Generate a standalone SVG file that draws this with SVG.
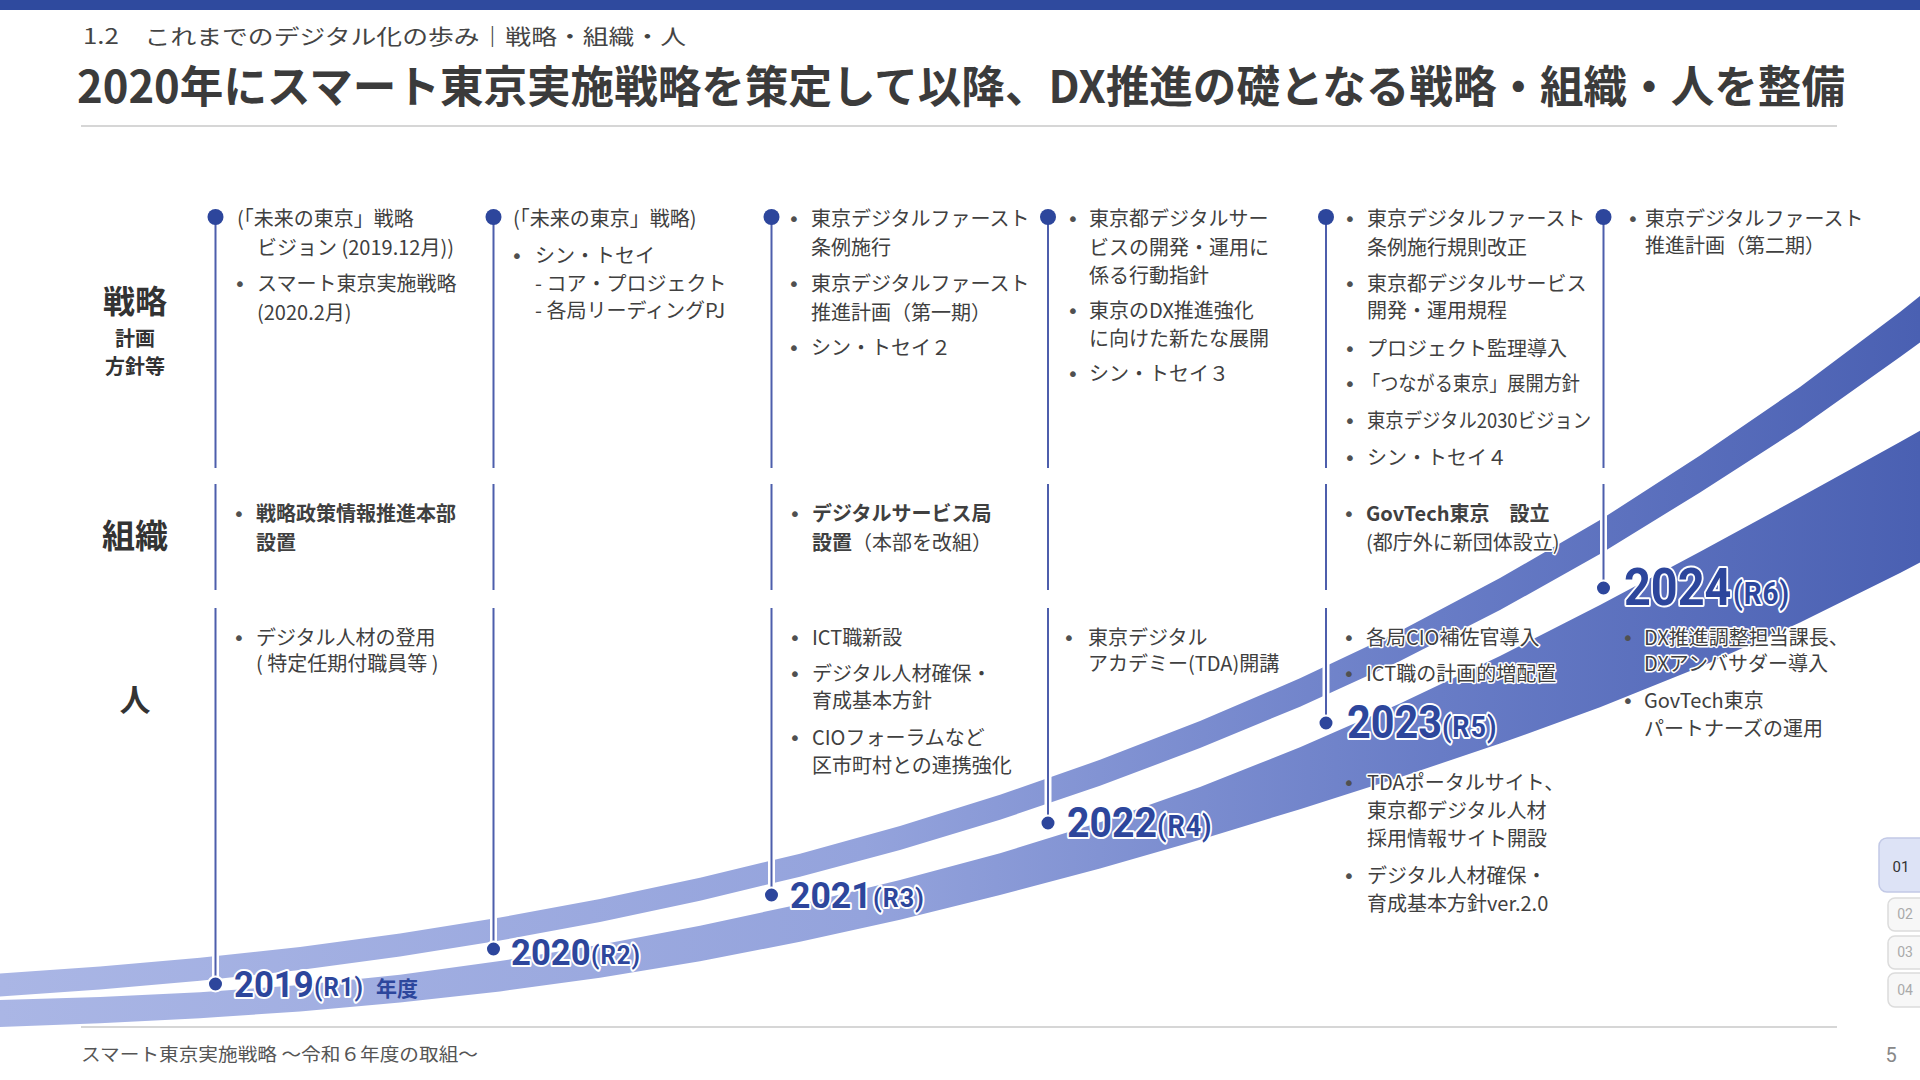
<svg xmlns="http://www.w3.org/2000/svg" width="1920" height="1080" viewBox="0 0 1920 1080">
<defs>
<linearGradient id="bandGrad" gradientUnits="userSpaceOnUse" x1="0" y1="0" x2="1920" y2="0">
<stop offset="0" stop-color="#aab6e5"/>
<stop offset="0.45" stop-color="#94a3dc"/>
<stop offset="0.75" stop-color="#687cc6"/>
<stop offset="1" stop-color="#4a60b2"/>
</linearGradient>
<style>
.t{font-family:"Noto Sans CJK JP","Noto Sans",sans-serif;font-size:20px;fill:#404040;stroke:#fff;stroke-width:3px;paint-order:stroke;stroke-linejoin:round}
.bd{font-weight:700}
.bul{font-family:"DejaVu Sans",sans-serif;font-size:20px;fill:#505050}
.lab{font-family:"Noto Sans CJK JP","Noto Sans",sans-serif;font-weight:700;fill:#333;text-anchor:middle}
.yr{font-family:Roboto,"Liberation Sans",sans-serif;font-weight:700;fill:#2d469c;stroke:#fff;stroke-width:4px;paint-order:stroke;stroke-linejoin:round}
.rr{letter-spacing:1px}
.vlh{stroke:#fff;stroke-width:7;fill:none}
.vl{stroke:#4d5eac;stroke-width:2;fill:none}
.dot{fill:#2d469c}
.ydot{fill:#2d469c;stroke:#fff;stroke-width:2}
.tab{font-family:Roboto,"Liberation Sans",sans-serif;text-anchor:middle}
</style>
</defs>
<rect x="0" y="0" width="1920" height="1080" fill="#fff"/>
<g id="header">
<rect x="0" y="0" width="1920" height="10" fill="#2f4a9e"/>
<text x="83" y="44" font-family="Noto Sans CJK JP, sans-serif" font-size="21" fill="#444" textLength="603" lengthAdjust="spacingAndGlyphs">1.2　これまでのデジタル化の歩み｜戦略・組織・人</text>
<text x="77" y="103" font-family="Noto Sans CJK JP, sans-serif" font-size="44" font-weight="700" fill="#3b3b3b" textLength="1768" lengthAdjust="spacingAndGlyphs">2020年にスマート東京実施戦略を策定して以降、DX推進の礎となる戦略・組織・人を整備</text>
<line x1="81" y1="126" x2="1837" y2="126" stroke="#d6d6d6" stroke-width="2"/>
</g>
<g id="bands">
<path d="M -20 974.8 L 0 973.5 L 100 966.6 L 200 957.8 L 300 946.9 L 400 933.4 L 500 917.5 L 600 899 L 700 877.7 L 800 853.7 L 900 826 L 1000 794.8 L 1100 759.8 L 1200 721.1 L 1300 678.3 L 1400 630.9 L 1500 578.1 L 1600 520.1 L 1700 455.4 L 1800 387 L 1900 312 L 1940 280 L 1940 328 L 1900 357 L 1800 428 L 1700 492.4 L 1600 554.1 L 1500 610.1 L 1400 660.9 L 1300 706.7 L 1200 748.1 L 1100 785.8 L 1000 819.8 L 900 850 L 800 876.7 L 700 900.7 L 600 922 L 500 940.5 L 400 956.4 L 300 969.9 L 200 980.8 L 100 989.6 L 0 996.5 L -20 997.8 Z" fill="url(#bandGrad)"/>
<path d="M -20 1000.4 L 0 1000 L 100 997.1 L 200 992.3 L 300 985.1 L 400 974.7 L 500 961.1 L 600 944.7 L 700 925.7 L 800 904.2 L 900 880.1 L 1000 853.2 L 1100 822.3 L 1200 787 L 1300 747.3 L 1400 703.5 L 1500 656.1 L 1600 605.1 L 1700 551.7 L 1800 497.3 L 1900 442 L 1940 419.6 L 1940 551.9 L 1900 573.1 L 1800 622.6 L 1700 667.1 L 1600 707.3 L 1500 743.6 L 1400 777.2 L 1300 809.2 L 1200 839.7 L 1100 868.4 L 1000 895.1 L 900 919.7 L 800 941.8 L 700 961.2 L 600 977.8 L 500 991.4 L 400 1002.5 L 300 1011.4 L 200 1018.2 L 100 1023.3 L 0 1027 L -20 1027.6 Z" fill="url(#bandGrad)"/>
</g>
<g id="row-labels">
<text class="lab" x="135" y="313" font-size="32">戦略</text>
<text class="lab" x="135" y="346" font-size="20">計画</text>
<text class="lab" x="135" y="374" font-size="20">方針等</text>
<text class="lab" x="135" y="548" font-size="33">組織</text>
<text class="lab" x="135" y="711" font-size="31">人</text>
</g>
<g id="connectors">
<g class="vlh">
<path d="M215.5 217V468M215.5 484V590M215.5 608V984"/>
<path d="M493.5 217V468M493.5 484V590M493.5 608V949"/>
<path d="M771.5 217V468M771.5 484V590M771.5 608V895"/>
<path d="M1048 217V468M1048 484V590M1048 608V823"/>
<path d="M1326 217V468M1326 484V590M1326 608V723"/>
<path d="M1603.5 217V468M1603.5 484V588"/>
</g>
<g class="vl">
<path d="M215.5 217V468M215.5 484V590M215.5 608V984"/>
<path d="M493.5 217V468M493.5 484V590M493.5 608V949"/>
<path d="M771.5 217V468M771.5 484V590M771.5 608V895"/>
<path d="M1048 217V468M1048 484V590M1048 608V823"/>
<path d="M1326 217V468M1326 484V590M1326 608V723"/>
<path d="M1603.5 217V468M1603.5 484V588"/>
</g>
<g class="dot">
<circle cx="215.5" cy="217" r="8"/>
<circle cx="493.5" cy="217" r="8"/>
<circle cx="771.5" cy="217" r="8"/>
<circle cx="1048" cy="217" r="8"/>
<circle cx="1326" cy="217" r="8"/>
<circle cx="1603.5" cy="217" r="8"/>
</g>
<g class="ydot">
<circle cx="215.5" cy="984" r="7.5"/>
<circle cx="493.5" cy="949" r="7.5"/>
<circle cx="771.5" cy="895" r="7.5"/>
<circle cx="1048" cy="823" r="7.5"/>
<circle cx="1326" cy="723" r="7.5"/>
<circle cx="1603.5" cy="588" r="7.5"/>
</g>
</g>
<g id="col-2019">
<text class="t" x="237" y="225.5">(「未来の東京」戦略</text>
<text class="t" x="257" y="254.5">ビジョン (2019.12月))</text>
<text class="bul" x="234" y="290.5">•</text>
<text class="t" x="257" y="290.5">スマート東京実施戦略</text>
<text class="t" x="257" y="319.5">(2020.2月)</text>
<text class="bul" x="233" y="520.5">•</text>
<text class="t bd" x="256" y="520.5">戦略政策情報推進本部</text>
<text class="t bd" x="256" y="549.5">設置</text>
<text class="bul" x="233" y="644.5">•</text>
<text class="t" x="256" y="644.5">デジタル人材の登用</text>
<text class="t" x="256" y="670.5">( 特定任期付職員等 )</text>
</g>
<g id="col-2020">
<text class="t" x="513" y="225.5">(「未来の東京」戦略)</text>
<text class="bul" x="511" y="262.5">•</text>
<text class="t" x="535" y="262.5">シン・トセイ</text>
<text class="t" x="535" y="290.5">- コア・プロジェクト</text>
<text class="t" x="535" y="317.5">- 各局リーディングPJ</text>
</g>
<g id="col-2021">
<text class="bul" x="788" y="225.5">•</text>
<text class="t" x="811" y="225.5">東京デジタルファースト</text>
<text class="t" x="811" y="254.5">条例施行</text>
<text class="bul" x="788" y="290.5">•</text>
<text class="t" x="811" y="290.5">東京デジタルファースト</text>
<text class="t" x="811" y="319.5">推進計画（第一期）</text>
<text class="bul" x="788" y="354.5">•</text>
<text class="t" x="811" y="354.5">シン・トセイ２</text>
<text class="bul" x="789" y="520.5">•</text>
<text class="t" x="812" y="520.5"><tspan class="bd">デジタルサービス局</tspan></text>
<text class="t" x="812" y="549.5"><tspan class="bd">設置</tspan>（本部を改組）</text>
<text class="bul" x="789" y="644.5">•</text>
<text class="t" x="812" y="644.5">ICT職新設</text>
<text class="bul" x="789" y="680.5">•</text>
<text class="t" x="812" y="680.5">デジタル人材確保・</text>
<text class="t" x="812" y="707.5">育成基本方針</text>
<text class="bul" x="789" y="744.5">•</text>
<text class="t" x="812" y="744.5">CIOフォーラムなど</text>
<text class="t" x="812" y="772.5">区市町村との連携強化</text>
</g>
<g id="col-2022">
<text class="bul" x="1067" y="225.5">•</text>
<text class="t" x="1089" y="225.5">東京都デジタルサー</text>
<text class="t" x="1089" y="254.5">ビスの開発・運用に</text>
<text class="t" x="1089" y="282.5">係る行動指針</text>
<text class="bul" x="1067" y="317.5">•</text>
<text class="t" x="1089" y="317.5">東京のDX推進強化</text>
<text class="t" x="1089" y="345.5">に向けた新たな展開</text>
<text class="bul" x="1067" y="380.5">•</text>
<text class="t" x="1089" y="380.5">シン・トセイ３</text>
<text class="bul" x="1063" y="644.5">•</text>
<text class="t" x="1088" y="644.5">東京デジタル</text>
<text class="t" x="1088" y="670.5">アカデミー(TDA)開講</text>
</g>
<g id="col-2023">
<text class="bul" x="1344" y="225.5">•</text>
<text class="t" x="1367" y="225.5">東京デジタルファースト</text>
<text class="t" x="1367" y="254.5">条例施行規則改正</text>
<text class="bul" x="1344" y="290.5">•</text>
<text class="t" x="1367" y="290.5">東京都デジタルサービス</text>
<text class="t" x="1367" y="317.5">開発・運用規程</text>
<text class="bul" x="1344" y="355.5">•</text>
<text class="t" x="1367" y="355.5">プロジェクト監理導入</text>
<text class="bul" x="1344" y="390.5">•</text>
<text class="t" x="1362" y="390.5" textLength="218" lengthAdjust="spacingAndGlyphs">「つながる東京」展開方針</text>
<text class="bul" x="1344" y="427.5">•</text>
<text class="t" x="1367" y="427.5" textLength="224" lengthAdjust="spacingAndGlyphs">東京デジタル2030ビジョン</text>
<text class="bul" x="1344" y="464.5">•</text>
<text class="t" x="1367" y="464.5">シン・トセイ４</text>
<text class="bul" x="1343" y="520.5">•</text>
<text class="t bd" x="1366" y="520.5">GovTech東京　設立</text>
<text class="t" x="1366" y="549.5">(都庁外に新団体設立)</text>
<text class="bul" x="1343" y="644.5">•</text>
<text class="t" x="1366" y="644.5">各局CIO補佐官導入</text>
<text class="bul" x="1343" y="680.5">•</text>
<text class="t" x="1366" y="680.5">ICT職の計画的増配置</text>
<text class="bul" x="1343" y="789.5">•</text>
<text class="t" x="1367" y="789.5">TDAポータルサイト、</text>
<text class="t" x="1367" y="817.5">東京都デジタル人材</text>
<text class="t" x="1367" y="845.5">採用情報サイト開設</text>
<text class="bul" x="1343" y="882.5">•</text>
<text class="t" x="1367" y="882.5">デジタル人材確保・</text>
<text class="t" x="1367" y="910.5">育成基本方針ver.2.0</text>
</g>
<g id="col-2024">
<text class="bul" x="1627" y="225.5">•</text>
<text class="t" x="1645" y="225.5">東京デジタルファースト</text>
<text class="t" x="1645" y="252.5">推進計画（第二期）</text>
<text class="bul" x="1622" y="644.5">•</text>
<text class="t" x="1644" y="644.5">DX推進調整担当課長、</text>
<text class="t" x="1644" y="670.5">DXアンバサダー導入</text>
<text class="bul" x="1622" y="707.5">•</text>
<text class="t" x="1644" y="707.5">GovTech東京</text>
<text class="t" x="1644" y="735.5">パートナーズの運用</text>
</g>
<g id="year-labels">
<text class="yr" transform="translate(234 997) scale(0.964 1)"><tspan x="0" font-size="36">2019</tspan><tspan class="rr" x="83" dy="-1" font-size="25">(R1)</tspan></text>
<text x="376" y="996" font-family="Noto Sans CJK JP, sans-serif" font-size="21" font-weight="700" fill="#2d469c">年度</text>
<text class="yr" transform="translate(511 965) scale(0.964 1)"><tspan x="0" font-size="36">2020</tspan><tspan class="rr" x="83" dy="-1" font-size="25">(R2)</tspan></text>
<text class="yr" transform="translate(790 908) scale(0.963 1)"><tspan x="0" font-size="37">2021</tspan><tspan class="rr" x="86.2" dy="-1" font-size="26">(R3)</tspan></text>
<text class="yr" transform="translate(1067 837) scale(0.933 1)"><tspan x="0" font-size="42">2022</tspan><tspan class="rr" x="96.5" dy="-1" font-size="29">(R4)</tspan></text>
<text class="yr" transform="translate(1347 738) scale(0.9 1)"><tspan x="0" font-size="46">2023</tspan><tspan class="rr" x="105.6" dy="-1" font-size="30">(R5)</tspan></text>
<text class="yr" transform="translate(1624 605) scale(0.9 1)"><tspan x="0" font-size="52">2024</tspan><tspan class="rr" x="121.1" dy="-1" font-size="31">(R6)</tspan></text>
</g>
<g id="footer">
<line x1="81" y1="1027" x2="1837" y2="1027" stroke="#d6d6d6" stroke-width="2"/>
<text x="81" y="1061" font-family="Noto Sans CJK JP, sans-serif" font-size="18" fill="#555" textLength="397" lengthAdjust="spacingAndGlyphs">スマート東京実施戦略 ～令和６年度の取組～</text>
<text x="1891" y="1062" font-family="Roboto, Liberation Sans, sans-serif" font-size="20" fill="#888" text-anchor="middle">5</text>
</g>
<g id="page-tabs">
<rect x="1879" y="838" width="60" height="54" rx="8" fill="#dde3f6" stroke="#c2c9e6" stroke-width="1.5"/>
<text class="tab" x="1901" y="872" font-size="15" fill="#333">01</text>
<rect x="1888" y="898" width="50" height="33" rx="7" fill="#f7f7f7" stroke="#dcdcdc" stroke-width="1.5"/>
<text class="tab" x="1905" y="919" font-size="14" fill="#aaa">02</text>
<rect x="1888" y="936" width="50" height="33" rx="7" fill="#f7f7f7" stroke="#dcdcdc" stroke-width="1.5"/>
<text class="tab" x="1905" y="957" font-size="14" fill="#aaa">03</text>
<rect x="1888" y="973" width="50" height="34" rx="7" fill="#f7f7f7" stroke="#dcdcdc" stroke-width="1.5"/>
<text class="tab" x="1905" y="995" font-size="14" fill="#aaa">04</text>
</g>
</svg>
